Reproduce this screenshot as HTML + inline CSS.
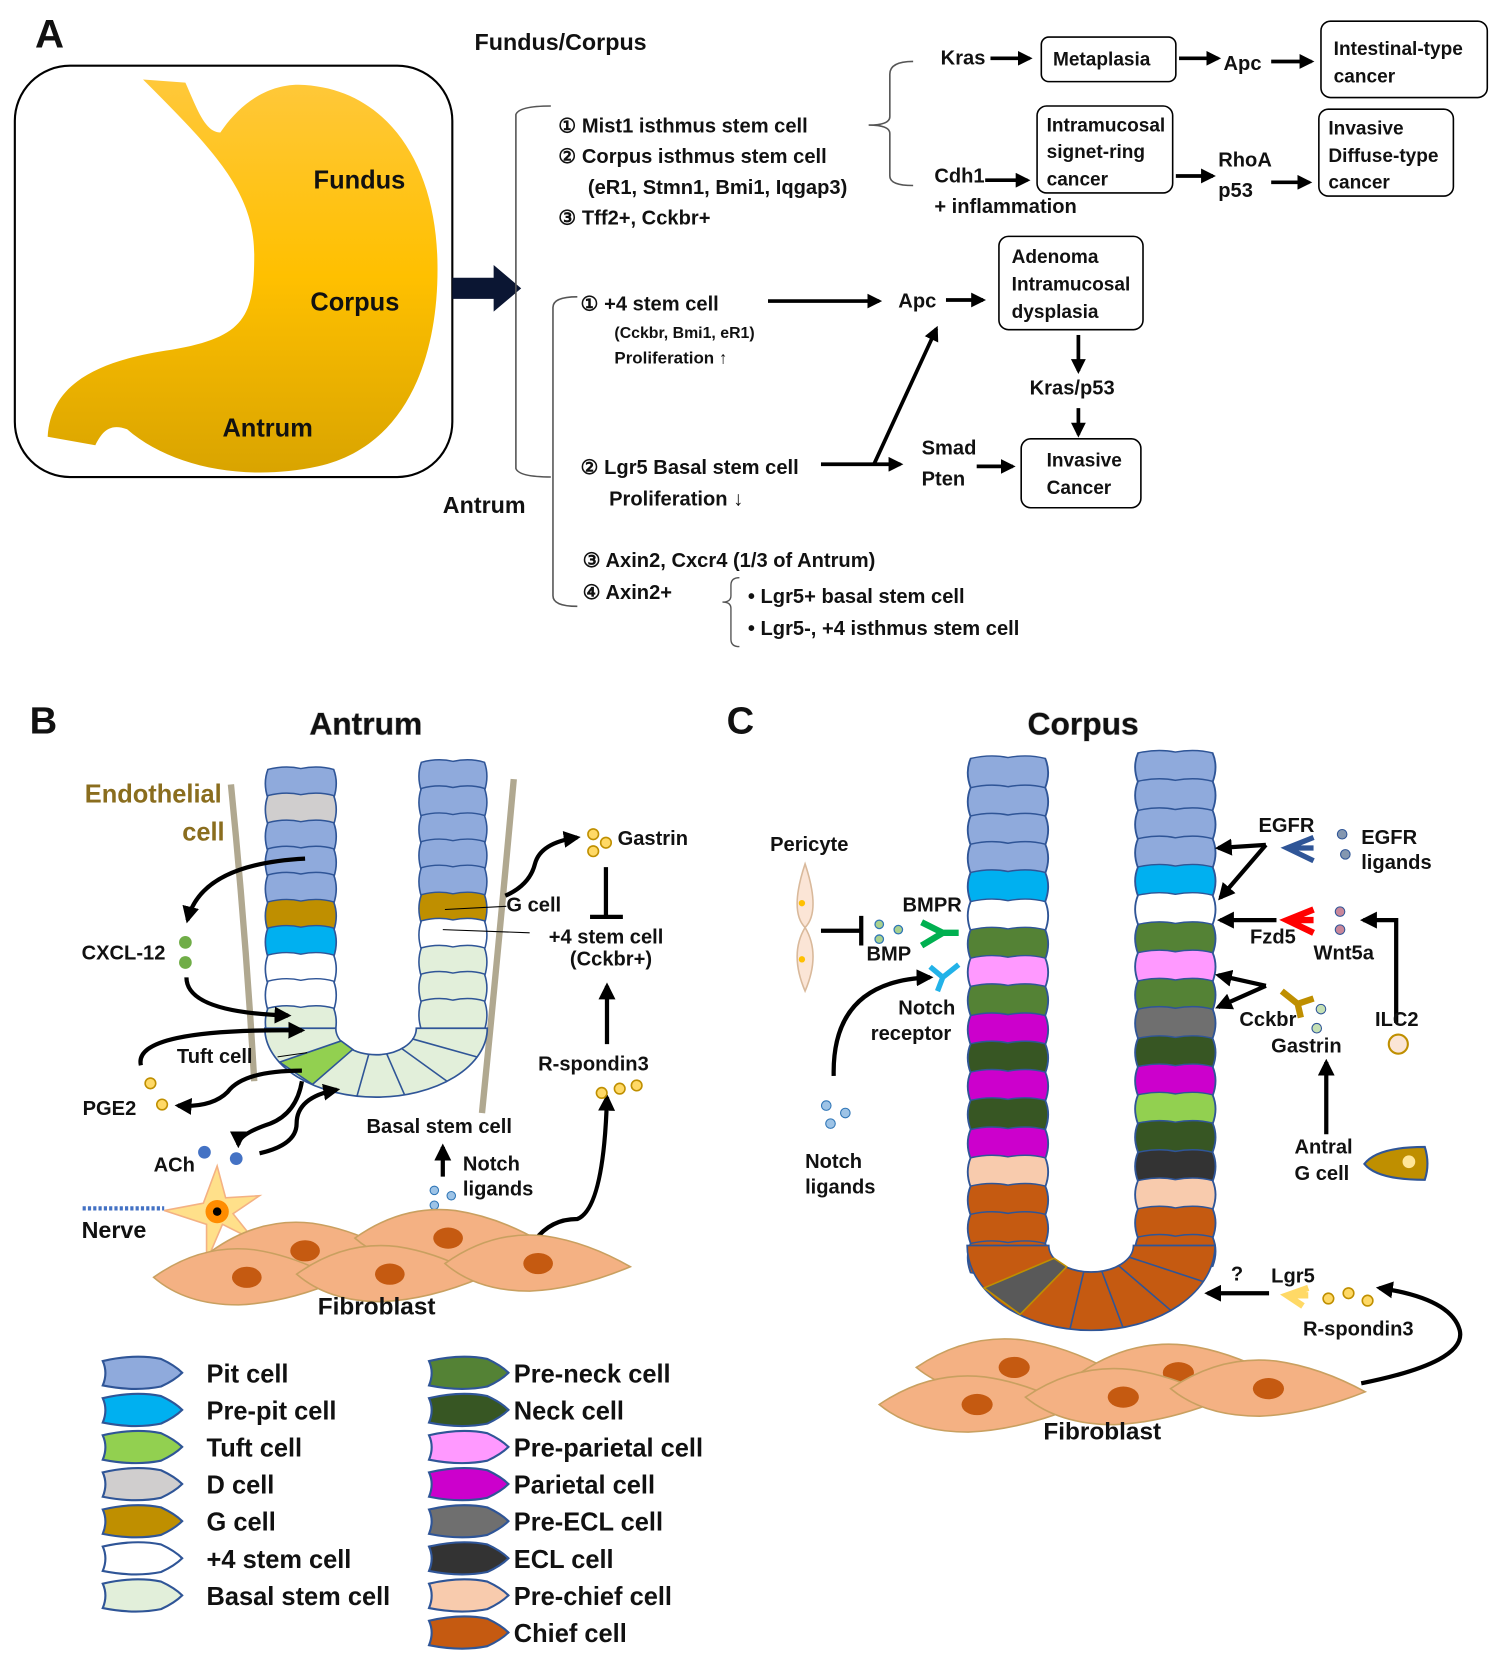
<!DOCTYPE html>
<html><head><meta charset="utf-8"><style>
html,body{margin:0;padding:0;background:#fff;}
svg{display:block;}
text{font-family:"Liberation Sans",sans-serif;font-weight:bold;fill:#111;}
</style></head><body>
<svg width="1500" height="1660" viewBox="0 0 1416 1566" preserveAspectRatio="none" xmlns="http://www.w3.org/2000/svg">
<defs>
<linearGradient id="st" x1="0" y1="0" x2="0" y2="1"><stop offset="0" stop-color="#ffc83a"/><stop offset="0.5" stop-color="#ffc000"/><stop offset="1" stop-color="#d9a400"/></linearGradient>
<marker id="ah" viewBox="0 0 10 10" refX="8" refY="5" markerWidth="4" markerHeight="4" orient="auto"><path d="M0,0 L10,5 L0,10 Z" fill="#000"/></marker>
<path id="cl" d="M3,1 Q20,-4 35,0 Q52,-4 67,1 Q72,16 67,33 Q52,37 35,33 Q20,37 3,33 Q-2,16 3,1Z" stroke="#2f5597" stroke-width="1.6"/>
<path id="lg" d="M0,4 Q30,-3 55,2 Q68,8 75,15 Q68,22 55,28 Q30,33 0,27 Q5,15 0,4Z" stroke="#2f5597" stroke-width="2"/>
<g id="fb"><path d="M0,0 Q45,-32 95,-26 Q135,-20 175,3 Q125,24 80,26 Q30,26 0,0Z" fill="#f4b183" stroke="#c9a060" stroke-width="1.5"/><ellipse cx="88" cy="0" rx="14" ry="10" fill="#c55a11"/></g>
</defs>

<!-- ===== Panel A ===== -->
<text x="33" y="45" font-size="38">A</text>
<rect x="14" y="62" width="413" height="388" rx="52" fill="none" stroke="#000" stroke-width="2"/>
<path d="M135,75 L175,78 C185,100 193,125 208,125 C225,100 250,80 282,80 C362,82 412,150 413,250 C414,340 382,422 300,440 C230,455 160,440 120,405 C102,398 95,410 90,420 L45,412 C48,362 92,340 162,330 C232,318 240,298 240,240 C240,180 200,140 135,75 Z" fill="url(#st)"/>
<text x="296" y="178" font-size="24">Fundus</text>
<text x="293" y="293" font-size="24">Corpus</text>
<text x="210" y="412" font-size="24">Antrum</text>
<path d="M427,262 L466,262 L466,250 L492,272 L466,294 L466,282 L427,282 Z" fill="#0b1633"/>
<text x="448" y="47" font-size="22">Fundus/Corpus</text>
<path d="M520,100 Q490,100 487,108 L487,442 Q490,450 520,450" fill="none" stroke="#555" stroke-width="1.5"/>
<g font-size="19">
<text x="527" y="125">① Mist1 isthmus stem cell</text>
<text x="527" y="154">② Corpus isthmus stem cell</text>
<text x="555" y="183">(eR1, Stmn1, Bmi1, Iqgap3)</text>
<text x="527" y="212">③ Tff2+, Cckbr+</text>
</g>
<path d="M862,58 Q840,58 840,70 L840,110 Q840,118 820,118 Q840,118 840,126 L840,166 Q840,175 862,175" fill="none" stroke="#555" stroke-width="1.5"/>
<g font-size="19">
<text x="888" y="61">Kras</text>
<text x="1155" y="66">Apc</text>
<text x="882" y="172">Cdh1</text>
<text x="882" y="201">+ inflammation</text>
<text x="1150" y="157">RhoA</text>
<text x="1150" y="186">p53</text>
</g>
<g stroke="#000" stroke-width="3.5" marker-end="url(#ah)" fill="none">
<line x1="935" y1="55" x2="972" y2="55"/><line x1="1113" y1="55" x2="1150" y2="55"/><line x1="1200" y1="58" x2="1238" y2="58"/>
<line x1="930" y1="170" x2="970" y2="170"/><line x1="1110" y1="166" x2="1145" y2="166"/><line x1="1200" y1="172" x2="1236" y2="172"/>
</g>
<g fill="#fff" stroke="#000" stroke-width="1.5">
<rect x="983" y="35" width="127" height="42" rx="7"/>
<rect x="1247" y="20" width="157" height="72" rx="9"/>
<rect x="979" y="100" width="128" height="82" rx="9"/>
<rect x="1245" y="103" width="127" height="82" rx="9"/>
<rect x="943" y="223" width="136" height="88" rx="9"/>
<rect x="964" y="414" width="113" height="65" rx="9"/>
</g>
<g font-size="18">
<text x="994" y="62">Metaplasia</text>
<text x="1259" y="52">Intestinal-type</text><text x="1259" y="78">cancer</text>
<text x="988" y="124">Intramucosal</text><text x="988" y="149">signet-ring</text><text x="988" y="175">cancer</text>
<text x="1254" y="127">Invasive</text><text x="1254" y="153">Diffuse-type</text><text x="1254" y="178">cancer</text>
<text x="955" y="248">Adenoma</text><text x="955" y="274">Intramucosal</text><text x="955" y="300">dysplasia</text>
<text x="988" y="440">Invasive</text><text x="988" y="466">Cancer</text>
</g>
<path d="M545,280 Q522,280 522,290 L522,562 Q522,572 545,572" fill="none" stroke="#555" stroke-width="1.5"/>
<text x="418" y="484" font-size="22">Antrum</text>
<text x="548" y="293" font-size="19">① +4 stem cell</text>
<text x="580" y="319" font-size="15">(Cckbr, Bmi1, eR1)</text>
<text x="580" y="343" font-size="16">Proliferation ↑</text>
<text x="848" y="290" font-size="19">Apc</text>
<text x="972" y="372" font-size="19">Kras/p53</text>
<text x="548" y="447" font-size="19">② Lgr5 Basal stem cell</text>
<text x="575" y="477" font-size="19">Proliferation ↓</text>
<text x="870" y="429" font-size="19">Smad</text>
<text x="870" y="458" font-size="19">Pten</text>
<text x="550" y="535" font-size="19">③ Axin2, Cxcr4 (1/3 of Antrum)</text>
<text x="550" y="565" font-size="19">④ Axin2+</text>
<path d="M698,545 Q690,545 690,552 L690,562 Q690,568 682,568 Q690,568 690,574 L690,603 Q690,610 698,610" fill="none" stroke="#555" stroke-width="1.3"/>
<text x="706" y="569" font-size="19">•  Lgr5+ basal stem cell</text>
<text x="706" y="599" font-size="19">•  Lgr5-, +4 isthmus stem cell</text>
<g stroke="#000" stroke-width="3.5" marker-end="url(#ah)" fill="none">
<line x1="725" y1="284" x2="830" y2="284"/><line x1="893" y1="283" x2="928" y2="283"/>
<line x1="1018" y1="316" x2="1018" y2="350"/><line x1="1018" y1="385" x2="1018" y2="410"/>
<line x1="775" y1="438" x2="850" y2="438"/><line x1="825" y1="438" x2="884" y2="310"/>
<line x1="922" y1="440" x2="956" y2="440"/>
</g>

<!-- ===== Panel B ===== -->
<text x="28" y="692" font-size="36">B</text>
<text x="292" y="693" font-size="30" style="paint-order:stroke" stroke="#bbb" stroke-width="1">Antrum</text>
<text x="80" y="757" font-size="24" style="fill:#8a6d1e">Endothelial</text>
<text x="172" y="793" font-size="24" style="fill:#8a6d1e">cell</text>
<path d="M218,740 Q232,880 240,1020" fill="none" stroke="#b0a890" stroke-width="6"/>
<path d="M485,735 Q470,900 455,1050" fill="none" stroke="#b0a890" stroke-width="6"/>
<g transform="translate(250,0) scale(0.97,0.85)">
<use href="#cl" y="853" fill="#8faadc"/><use href="#cl" y="882" fill="#d0cece"/><use href="#cl" y="912" fill="#8faadc"/><use href="#cl" y="941" fill="#8faadc"/><use href="#cl" y="970" fill="#8faadc"/><use href="#cl" y="1000" fill="#bf8f00"/><use href="#cl" y="1029" fill="#00b0f0"/><use href="#cl" y="1059" fill="#fff"/><use href="#cl" y="1088" fill="#fff"/><use href="#cl" y="1118" fill="#e2efda"/>
</g>
<g transform="translate(395,0) scale(0.93,0.85)">
<use href="#cl" y="845" fill="#8faadc"/><use href="#cl" y="874" fill="#8faadc"/><use href="#cl" y="904" fill="#8faadc"/><use href="#cl" y="933" fill="#8faadc"/><use href="#cl" y="962" fill="#8faadc"/><use href="#cl" y="992" fill="#bf8f00"/><use href="#cl" y="1021" fill="#fff"/><use href="#cl" y="1051" fill="#e2efda"/><use href="#cl" y="1080" fill="#e2efda"/><use href="#cl" y="1110" fill="#e2efda"/>
</g>
<path d="M250,970 A105,65 0 0 0 460,970 L393,970 A38,25 0 0 1 317,970 Z" fill="#e2efda" stroke="#2f5597" stroke-width="1.6"/>
<polygon points="333,990 295,1023 264,1002 322,982" fill="#92d050" stroke="#2f5597" stroke-width="1.5"/>
<g stroke="#2f5597" stroke-width="1.5"><line x1="389" y1="980" x2="450" y2="997"/><line x1="379" y1="989" x2="422" y2="1020"/><line x1="365" y1="994" x2="382" y2="1033"/><line x1="348" y1="995" x2="337" y2="1034"/></g>
<g stroke="#000" stroke-width="4" fill="none" marker-end="url(#ah)">
<path d="M288,810 Q190,815 177,868"/>
<path d="M176,922 Q176,955 272,958"/>
<path d="M133,1005 Q125,970 285,972"/>
<path d="M285,1010 Q230,1010 215,1030 Q200,1045 168,1043"/>
<path d="M285,1020 Q280,1050 255,1060 Q225,1070 225,1080"/>
<path d="M245,1088 Q280,1080 280,1060 Q280,1035 318,1028"/>
<path d="M477,845 Q500,835 505,815 Q510,795 545,790"/>
<path d="M573,985 L573,930"/>
<path d="M418,1110 L418,1082"/>
<path d="M505,1170 Q520,1150 545,1150 Q570,1140 573,1035"/>
</g>
<path d="M572,818 L572,863 M557,865 L588,865" stroke="#000" stroke-width="4" fill="none"/>
<line x1="420" y1="858" x2="478" y2="855" stroke="#000" stroke-width="1"/>
<line x1="418" y1="877" x2="500" y2="880" stroke="#000" stroke-width="1"/>
<line x1="262" y1="997" x2="290" y2="993" stroke="#000" stroke-width="1"/>
<g font-size="19">
<text x="77" y="905">CXCL-12</text><text x="167" y="1003">Tuft cell</text><text x="78" y="1052">PGE2</text>
<text x="145" y="1105">ACh</text><text x="583" y="797">Gastrin</text><text x="478" y="860">G cell</text>
<text x="518" y="890">+4 stem cell</text><text x="538" y="911">(Cckbr+)</text>
<text x="508" y="1010">R-spondin3</text><text x="346" y="1069">Basal stem cell</text>
<text x="437" y="1104">Notch</text><text x="437" y="1128">ligands</text>
</g>
<text x="77" y="1168" font-size="22">Nerve</text>
<g fill="#70ad47"><circle cx="175" cy="889" r="6"/><circle cx="175" cy="908" r="6"/></g>
<g fill="#ffd966" stroke="#bf8f00" stroke-width="1.5"><circle cx="142" cy="1022" r="5"/><circle cx="153" cy="1042" r="5"/><circle cx="560" cy="787" r="5"/><circle cx="572" cy="795" r="5"/><circle cx="560" cy="803" r="5"/><circle cx="568" cy="1031" r="5"/><circle cx="585" cy="1027" r="5"/><circle cx="601" cy="1024" r="5"/></g>
<g fill="#4472c4"><circle cx="193" cy="1087" r="6"/><circle cx="223" cy="1093" r="6"/></g>
<g fill="#9dc3e6" stroke="#2e75b6"><circle cx="410" cy="1123" r="4"/><circle cx="426" cy="1128" r="4"/><circle cx="410" cy="1137" r="4"/></g>
<line x1="78" y1="1140" x2="155" y2="1140" stroke="#4472c4" stroke-width="4" stroke-dasharray="3,2"/>
<path d="M205,1100 L213,1130 L245,1128 L220,1145 L240,1170 L210,1155 L195,1190 L195,1155 L155,1142 L192,1135 Z" fill="#ffe08a" stroke="#f4b183" stroke-width="1.5"/>
<circle cx="205" cy="1143" r="11" fill="#ff8c00"/><circle cx="205" cy="1143" r="4" fill="#000"/>
<use href="#fb" transform="translate(200,1180)"/>
<use href="#fb" transform="translate(335,1168)"/>
<use href="#fb" transform="translate(145,1205)"/>
<use href="#fb" transform="translate(280,1202)"/>
<use href="#fb" transform="translate(420,1192)"/>
<text x="300" y="1240" font-size="23">Fibroblast</text>

<g>
<use href="#lg" x="97" y="1280" fill="#8faadc"/><use href="#lg" x="97" y="1315" fill="#00b0f0"/><use href="#lg" x="97" y="1350" fill="#92d050"/><use href="#lg" x="97" y="1385" fill="#d0cece"/><use href="#lg" x="97" y="1420" fill="#bf8f00"/><use href="#lg" x="97" y="1455" fill="#fff"/><use href="#lg" x="97" y="1490" fill="#e2efda"/>
<use href="#lg" x="405" y="1280" fill="#548235"/><use href="#lg" x="405" y="1315" fill="#375623"/><use href="#lg" x="405" y="1350" fill="#ff99ff"/><use href="#lg" x="405" y="1385" fill="#cc00cc"/><use href="#lg" x="405" y="1420" fill="#6f6f6f"/><use href="#lg" x="405" y="1455" fill="#333" style="stroke:#bf8f00"/><use href="#lg" x="405" y="1490" fill="#f8cbad"/><use href="#lg" x="405" y="1525" fill="#c55a11"/>
</g>
<g font-size="24" font-weight="normal">
<text x="195" y="1304">Pit cell</text><text x="195" y="1339">Pre-pit cell</text><text x="195" y="1374">Tuft cell</text><text x="195" y="1409">D cell</text><text x="195" y="1444">G cell</text><text x="195" y="1479">+4 stem cell</text><text x="195" y="1514">Basal stem cell</text>
<text x="485" y="1304">Pre-neck cell</text><text x="485" y="1339">Neck cell</text><text x="485" y="1374">Pre-parietal cell</text><text x="485" y="1409">Parietal cell</text><text x="485" y="1444">Pre-ECL cell</text><text x="485" y="1479">ECL cell</text><text x="485" y="1514">Pre-chief cell</text><text x="485" y="1549">Chief cell</text>
</g>

<!-- ===== Panel C ===== -->
<text x="686" y="692" font-size="36">C</text>
<text x="970" y="693" font-size="30" style="paint-order:stroke" stroke="#bbb" stroke-width="1">Corpus</text>
<g transform="translate(913,0) scale(1.1,0.86)">
<use href="#cl" y="831" fill="#8faadc"/><use href="#cl" y="863" fill="#8faadc"/><use href="#cl" y="894" fill="#8faadc"/><use href="#cl" y="925" fill="#8faadc"/><use href="#cl" y="956" fill="#00b0f0"/><use href="#cl" y="988" fill="#fff"/><use href="#cl" y="1019" fill="#548235"/><use href="#cl" y="1050" fill="#ff99ff"/><use href="#cl" y="1081" fill="#548235"/><use href="#cl" y="1113" fill="#cc00cc"/><use href="#cl" y="1144" fill="#375623"/><use href="#cl" y="1175" fill="#cc00cc"/><use href="#cl" y="1206" fill="#375623"/><use href="#cl" y="1238" fill="#cc00cc"/><use href="#cl" y="1269" fill="#f8cbad"/><use href="#cl" y="1300" fill="#c55a11"/><use href="#cl" y="1331" fill="#c55a11"/><use href="#cl" y="1363" fill="#c55a11"/>
</g>
<g transform="translate(1071,0) scale(1.1,0.86)">
<use href="#cl" y="825" fill="#8faadc"/><use href="#cl" y="856" fill="#8faadc"/><use href="#cl" y="888" fill="#8faadc"/><use href="#cl" y="919" fill="#8faadc"/><use href="#cl" y="950" fill="#00b0f0"/><use href="#cl" y="981" fill="#fff"/><use href="#cl" y="1013" fill="#548235"/><use href="#cl" y="1044" fill="#ff99ff"/><use href="#cl" y="1075" fill="#548235"/><use href="#cl" y="1106" fill="#6f6f6f"/><use href="#cl" y="1138" fill="#375623"/><use href="#cl" y="1169" fill="#cc00cc"/><use href="#cl" y="1200" fill="#92d050"/><use href="#cl" y="1231" fill="#375623"/><use href="#cl" y="1263" fill="#333" style="stroke:#bf8f00"/><use href="#cl" y="1294" fill="#f8cbad"/><use href="#cl" y="1325" fill="#c55a11"/><use href="#cl" y="1356" fill="#c55a11"/>
</g>
<path d="M913,1175 A117,80 0 0 0 1147,1175 L1070,1175 A40,25 0 0 1 990,1175 Z" fill="#c55a11" stroke="#2f5597" stroke-width="1.6"/>
<polygon points="1007,1195 963,1240 929,1215 995,1187" fill="#595959" stroke="#bf8f00" stroke-width="1.5"/>
<g stroke="#2f5597" stroke-width="1.5"><line x1="1066" y1="1186" x2="1136" y2="1209"/><line x1="1056" y1="1194" x2="1105" y2="1236"/><line x1="1040" y1="1199" x2="1060" y2="1252"/><line x1="1023" y1="1200" x2="1010" y2="1254"/></g>
<path d="M760,815 Q775,860 760,875 Q745,860 760,815 Z M760,875 Q775,900 760,935 Q745,900 760,875Z" fill="#fbe5d6" stroke="#d9b99b" stroke-width="1.5"/>
<circle cx="757" cy="852" r="3" fill="#ffc000"/><circle cx="757" cy="905" r="3" fill="#ffc000"/>
<path d="M775,878 L812,878 M813,864 L813,892" stroke="#000" stroke-width="4" fill="none"/>
<g fill="#a9d18e" stroke="#2e75b6" stroke-width="1.2"><circle cx="830" cy="872" r="4"/><circle cx="848" cy="877" r="4"/><circle cx="830" cy="886" r="4"/></g>
<path d="M870,870 L890,880 L870,892 M890,880 L905,880" stroke="#00b050" stroke-width="6" fill="none"/>
<path d="M878,912 L890,922 L905,910 M890,922 L885,935" stroke="#22b2e8" stroke-width="5" fill="none"/>
<path d="M1240,790 L1215,800 L1240,812 M1215,800 L1240,800" stroke="#2f5597" stroke-width="5" fill="none"/>
<path d="M1240,858 L1215,868 L1240,880 M1215,868 L1240,868" stroke="#ff0000" stroke-width="6" fill="none"/>
<path d="M1210,935 L1225,947 L1240,942 M1225,947 L1228,960" stroke="#bf8f00" stroke-width="6" fill="none"/>
<path d="M1235,1215 L1215,1222 L1230,1232 M1215,1222 L1235,1222" stroke="#ffd966" stroke-width="6" fill="none"/>
<g fill="#8497b0" stroke="#2f5597"><circle cx="1267" cy="787" r="4.5"/><circle cx="1270" cy="806" r="4.5"/></g>
<g fill="#c9879a" stroke="#2f5597"><circle cx="1265" cy="860" r="4.5"/><circle cx="1265" cy="877" r="4.5"/></g>
<g fill="#c5e0b4" stroke="#2f5597"><circle cx="1247" cy="952" r="4.5"/><circle cx="1243" cy="970" r="4.5"/></g>
<g fill="#9dc3e6" stroke="#2e75b6"><circle cx="780" cy="1043" r="4.5"/><circle cx="798" cy="1050" r="4.5"/><circle cx="784" cy="1060" r="4.5"/></g>
<g fill="#ffd966" stroke="#bf8f00" stroke-width="1.5"><circle cx="1254" cy="1225" r="5"/><circle cx="1273" cy="1220" r="5"/><circle cx="1291" cy="1227" r="5"/></g>
<circle cx="1320" cy="985" r="9" fill="#fbe5d6" stroke="#bf8f00" stroke-width="2"/>
<path d="M1288,1098 Q1300,1082 1345,1082 Q1350,1098 1345,1113 Q1300,1113 1288,1098Z" fill="#bf8f00" stroke="#2f5597" stroke-width="2"/>
<circle cx="1330" cy="1096" r="6" fill="#ffe699"/>
<g stroke="#000" stroke-width="4" fill="none" marker-end="url(#ah)">
<path d="M787,1015 Q785,925 878,922"/>
<path d="M1195,797 L1150,800"/><path d="M1195,797 L1152,847"/>
<path d="M1205,868 L1152,868"/>
<path d="M1318,965 L1318,868 L1287,868"/>
<path d="M1195,930 L1150,920"/><path d="M1195,930 L1150,950"/>
<path d="M1252,1070 L1252,1002"/>
<path d="M1198,1220 L1140,1220"/>
<path d="M1285,1305 Q1385,1285 1378,1255 Q1370,1225 1302,1215"/>
</g>
<g font-size="19">
<text x="727" y="803">Pericyte</text><text x="852" y="860">BMPR</text><text x="818" y="906">BMP</text>
<text x="848" y="957">Notch</text><text x="822" y="981">receptor</text>
<text x="760" y="1102">Notch</text><text x="760" y="1126">ligands</text>
<text x="1188" y="785">EGFR</text><text x="1285" y="796">EGFR</text><text x="1285" y="820">ligands</text>
<text x="1180" y="890">Fzd5</text><text x="1240" y="905">Wnt5a</text>
<text x="1170" y="968">Cckbr</text><text x="1200" y="993">Gastrin</text><text x="1298" y="968">ILC2</text>
<text x="1222" y="1088">Antral</text><text x="1222" y="1113">G cell</text>
<text x="1162" y="1208">?</text><text x="1200" y="1210">Lgr5</text><text x="1230" y="1260">R-spondin3</text>
</g>
<use href="#fb" transform="translate(865,1290) scale(1.05,1)"/>
<use href="#fb" transform="translate(1020,1295) scale(1.05,1)"/>
<use href="#fb" transform="translate(830,1325) scale(1.05,1)"/>
<use href="#fb" transform="translate(968,1318) scale(1.05,1)"/>
<use href="#fb" transform="translate(1105,1310) scale(1.05,1)"/>
<text x="985" y="1358" font-size="23">Fibroblast</text>
</svg>
</body></html>
